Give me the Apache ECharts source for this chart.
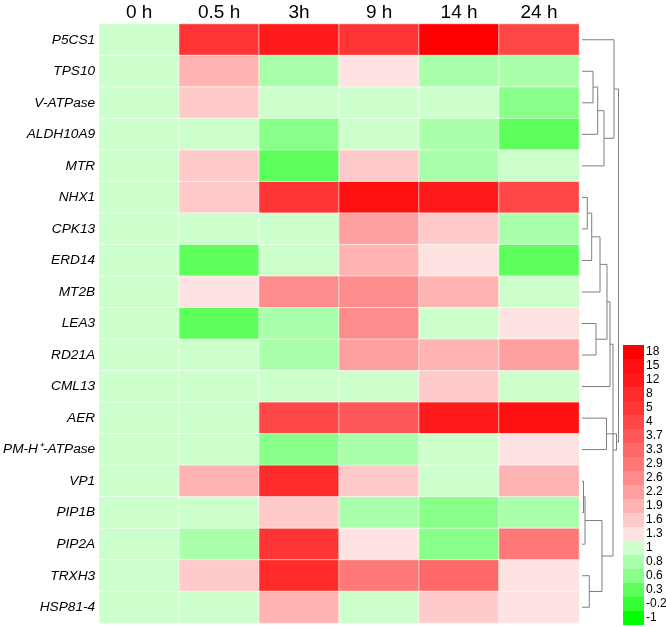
<!DOCTYPE html>
<html>
<head>
<meta charset="utf-8">
<script src="https://cdn.jsdelivr.net/npm/echarts@6/dist/echarts.min.js"></script>
<style>html,body{margin:0;padding:0;background:#fff;}#c{width:666px;height:627px;}</style>
</head>
<body>
<div id="c"></div>
<script>
// ---- data ----
const timePoints = ['0 h', '0.5 h', '3h', '9 h', '14 h', '24 h'];
const genes = ['P5CS1','TPS10','V-ATPase','ALDH10A9','MTR','NHX1','CPK13','ERD14','MT2B','LEA3',
  'RD21A','CML13','AER','PM-H\u207A-ATPase','VP1','PIP1B','PIP2A','TRXH3','HSP81-4'];
// relative expression (fold change) per gene, columns = timePoints
const P5CS1    = [1, 5,   12,  5,   18,  4];
const TPS10    = [1, 1.9, 0.8, 1.3, 0.8, 0.8];
const V_ATPase = [1, 1.6, 1,   1,   1,   0.6];
const ALDH10A9 = [1, 1,   0.6, 1,   0.8, 0.3];
const MTR      = [1, 1.6, 0.3, 1.6, 0.8, 1];
const NHX1     = [1, 1.6, 5,   15,  12,  4];
const CPK13    = [1, 1,   1,   2.2, 1.6, 0.8];
const ERD14    = [1, 0.3, 1,   1.9, 1.3, 0.3];
const MT2B     = [1, 1.3, 2.6, 2.6, 1.9, 1];
const LEA3     = [1, 0.3, 0.8, 2.6, 1,   1.3];
const RD21A    = [1, 1,   0.8, 2.2, 1.9, 2.2];
const CML13    = [1, 1,   1,   1,   1.6, 1];
const AER      = [1, 1,   4,   3.7, 12,  15];
const PM_ATPase= [1, 1,   0.6, 0.8, 1,   1.3];
const VP1      = [1, 1.9, 8,   1.6, 1,   1.9];
const PIP1B    = [1, 1,   1.6, 0.8, 0.6, 0.8];
const PIP2A    = [1, 0.8, 5,   1.3, 0.6, 2.9];
const TRXH3    = [1, 1.6, 8,   2.9, 3.3, 1.3];
const HSP81_4  = [1, 1,   1.9, 1,   1.6, 1.3];
const geneValues = [P5CS1,TPS10,V_ATPase,ALDH10A9,MTR,NHX1,CPK13,ERD14,MT2B,LEA3,
  RD21A,CML13,AER,PM_ATPase,VP1,PIP1B,PIP2A,TRXH3,HSP81_4];

// legend tick labels (low -> high)
const legendTicks = [-1, -0.2, 0.3, 0.6, 0.8, 1, 1.3, 1.6, 1.9, 2.2, 2.6, 2.9, 3.3, 3.7, 4, 5, 8, 12, 15, 18];

// dendrogram merges: node ids 0..18 are leaves, 19+k is merge k
const mergeLeft   = [14, 19, 5, 17, 1, 21, 9, 23, 24, 20, 26, 12, 27, 31, 0, 32, 34, 33];
const mergeRight  = [15, 16, 6, 18, 2, 7, 10, 3, 8, 22, 4, 13, 25, 11, 29, 28, 30, 35];
const mergeHeight = [1.5, 3, 5.3, 7.3, 11, 9.7, 14, 15.7, 18, 20, 22, 24.5, 25, 28, 32, 31, 34.5, 36.5];

// ---- styling ----
const palette = ['#00ff00','#33ff33','#5cff5c','#88ff88','#aaffaa','#ccffcc',
  '#ffe2e2','#ffcaca','#ffb3b3','#ffa0a0','#ff8c8c','#ff7878','#ff6868','#ff5757',
  '#ff4747','#ff3535','#ff2a2a','#ff1b1b','#ff1010','#ff0000'];

const pieces = legendTicks.map((t, i) => {
  const p = {label: String(t), color: palette[i]};
  if (i > 0) p.gte = t;
  if (i < legendTicks.length - 1) p.lt = legendTicks[i + 1];
  return p;
});

const heatData = [];
geneValues.forEach((row, gi) => row.forEach((v, ti) => heatData.push([ti, gi, v])));

// dendrogram polylines
const nodeY = genes.map((g, i) => i);
const nodeH = genes.map(() => 0);
const dendroLines = [];
for (let k = 0; k < mergeLeft.length; k++) {
  const a = mergeLeft[k], b = mergeRight[k], h = mergeHeight[k];
  dendroLines.push({coords: [[nodeH[a], nodeY[a]], [h, nodeY[a]], [h, nodeY[b]], [nodeH[b], nodeY[b]]]});
  nodeY.push((nodeY[a] + nodeY[b]) / 2);
  nodeH.push(h);
}

const FONT = 'Liberation Sans, Arial, sans-serif';
const chart = echarts.init(document.getElementById('c'), null, {renderer: 'canvas'});
chart.setOption({
  animation: false,
  backgroundColor: '#ffffff',
  textStyle: {fontFamily: FONT},
  grid: [
    {left: 99, top: 24, width: 480, height: 599},
    {left: 582, top: 24, width: 40, height: 599}
  ],
  xAxis: [
    {type: 'category', data: timePoints, position: 'top', gridIndex: 0,
     axisLine: {show: false}, axisTick: {show: false}, splitLine: {show: false},
     axisLabel: {color: '#000', fontSize: 19, margin: 2, fontFamily: FONT}},
    {type: 'value', gridIndex: 1, min: 0, max: 40, show: false}
  ],
  yAxis: [
    {type: 'category', data: genes, inverse: true, gridIndex: 0,
     axisLine: {show: false}, axisTick: {show: false}, splitLine: {show: false},
     axisLabel: {color: '#000', fontSize: 13.7, fontStyle: 'italic', margin: 4, fontFamily: FONT}},
    {type: 'value', gridIndex: 1, min: -0.5, max: 18.5, inverse: true, show: false}
  ],
  visualMap: {
    type: 'piecewise',
    pieces: pieces,
    dimension: 2,
    seriesIndex: 0,
    orient: 'vertical',
    align: 'left',
    left: 623, top: 345,
    padding: 0,
    itemWidth: 21, itemHeight: 14, itemGap: 0,
    itemSymbol: 'rect',
    textGap: 2,
    hoverLink: false,
    selectedMode: false,
    textStyle: {color: '#000', fontSize: 12, fontFamily: FONT}
  },
  series: [
    {type: 'heatmap', data: heatData, xAxisIndex: 0, yAxisIndex: 0,
     itemStyle: {borderColor: 'rgba(255,255,255,0.6)', borderWidth: 1},
     emphasis: {disabled: true}},
    {type: 'lines', coordinateSystem: 'cartesian2d', xAxisIndex: 1, yAxisIndex: 1,
     polyline: true, data: dendroLines, silent: true,
     lineStyle: {color: '#7f7f7f', width: 1, opacity: 1}}
  ]
});
</script>
</body>
</html>
